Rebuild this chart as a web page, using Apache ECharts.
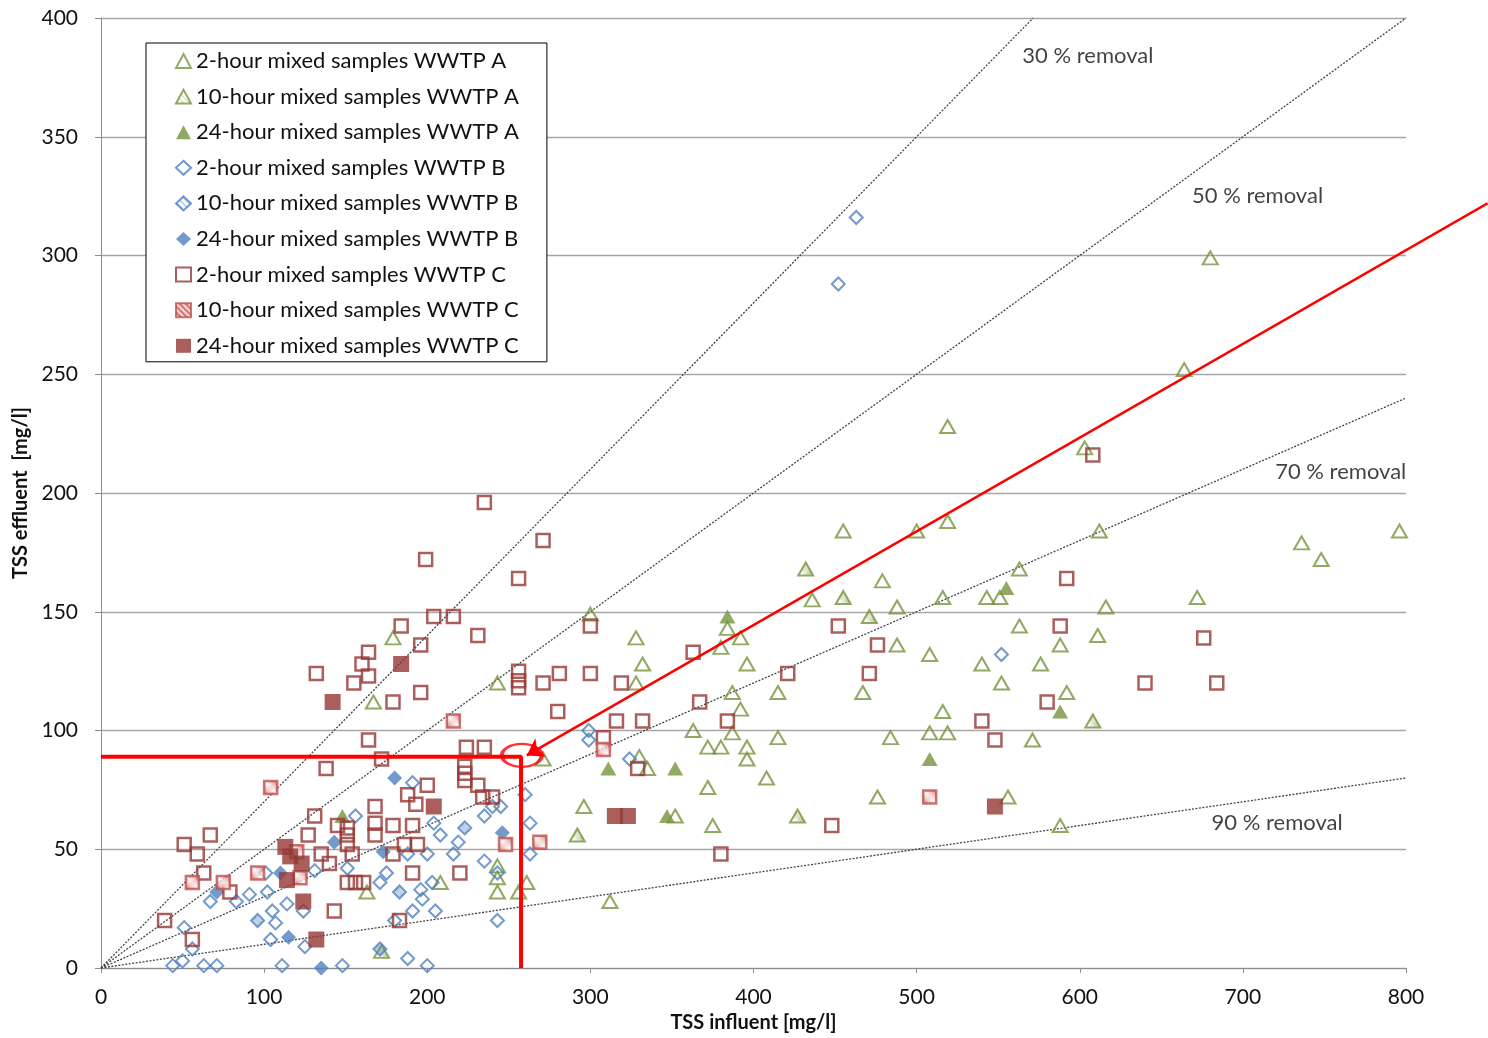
<!DOCTYPE html>
<html>
<head>
<meta charset="utf-8">
<script src="https://cdn.jsdelivr.net/npm/echarts@6/dist/echarts.min.js"></script>
<style>
  html, body { margin: 0; padding: 0; background: #fff; }
  #chart { width: 1488px; height: 1038px; }
</style>
</head>
<body>
<div id="chart"></div>
<script>
// TSS influent [mg/l] vs TSS effluent [mg/l]
const a2h = [[680,299],[664,252],[519,228],[603,219],[455,184],[500,184],[519,188],[612,184],[736,179],[748,172],
  [796,184],[479,163],[436,155],[563,168],[488,152],[516,156],[543,156],[551,156],[616,152],[672,156],
  [300,149],[384,143],[392,139],[380,135],[563,144],[611,140],[488,136],[508,132],[588,136],[540,128],
  [576,128],[552,120],[592,116],[328,139],[332,128],[328,120],[396,128],[387,116],[415,116],[467,116],
  [392,109],[387,99],[363,100],[415,97],[484,97],[516,108],[508,99],[519,99],[571,96],[372,93],
  [380,93],[396,93],[396,88],[330,89],[335,84],[408,80],[372,76],[476,72],[556,72],[296,68],
  [352,64],[375,60],[588,60],[271,88],[312,28],[179,139],[167,112],[243,120],[163,32],[208,36],
  [243,43],[243,38],[243,32],[256,32],[261,36]];
const a10h = [[432,168],[455,156],[471,148],[427,64],[608,104],[292,56],[172,7]];
const a24h = [[384,148],[311,84],[352,84],[347,64],[555,160],[588,108],[508,88],[148,64]];

const b2h = [[463,316],[452,288],[552,132],[299,100],[299,96],[324,88],[191,78],[156,64],[204,61],[208,56],
  [235,64],[240,68],[245,68],[260,73],[263,61],[200,48],[216,48],[219,53],[235,45],[243,40],
  [263,48],[131,41],[151,42],[175,40],[171,36],[196,33],[203,36],[197,29],[205,24],[191,24],
  [124,24],[180,20],[243,20],[188,4],[200,1],[148,1],[125,9],[188,48],[51,17],[56,8],
  [44,1],[50,3],[63,1],[71,1],[67,28],[83,28],[91,31],[102,32],[105,24],[107,19],
  [114,27],[104,12],[111,1],[101,40]];
const b10h = [[223,59],[183,32],[171,8],[96,20]];
const b24h = [[71,32],[115,13],[135,0],[180,80],[143,53],[173,49],[246,57],[110,40]];

const c2h = [[235,196],[199,172],[271,180],[256,164],[204,148],[216,148],[184,144],[231,140],[196,136],[164,133],
  [160,128],[164,123],[155,120],[196,116],[179,112],[256,125],[256,121],[256,118],[271,120],[164,96],
  [172,88],[224,93],[235,93],[223,85],[223,82],[223,79],[231,77],[200,77],[132,124],[138,84],
  [300,144],[281,124],[300,124],[319,120],[280,108],[316,104],[332,104],[363,133],[367,112],[384,104],
  [308,97],[329,84],[421,124],[452,144],[476,136],[471,124],[448,60],[380,48],[608,216],[592,164],
  [588,144],[580,112],[540,104],[548,96],[640,120],[676,139],[684,120],[67,56],[51,52],[59,48],
  [63,40],[39,20],[56,12],[79,32],[188,73],[193,69],[168,68],[234,72],[240,72],[131,64],
  [145,60],[151,59],[151,56],[151,52],[168,61],[168,56],[179,60],[191,60],[127,56],[186,52],
  [194,52],[135,48],[140,44],[154,48],[179,48],[191,40],[220,40],[151,36],[156,36],[161,36],
  [143,24],[183,20]];
const c10h = [[104,76],[56,36],[75,36],[96,40],[216,104],[248,52],[269,53],[308,92],[508,72],[120,49],[122,38]];
const c24h = [[142,112],[184,128],[204,68],[113,51],[116,47],[123,44],[114,37],[124,28],[132,12],[315,64],
  [323,64],[548,68]];

const removals = [30, 50, 70, 90];
const removalLabelPos = [[605,384],[709,325],[760,209],[721,61]];

// red marking: reading at ~258 mg/l influent / ~89 mg/l effluent
const markX = 257.5;
const markY = 89;
const circleAt = [258, 89.5];
const arrowFrom = [850, 322];
const arrowTo = [261, 89.5];

const xMax = 800, yMax = 400;

function hatch(bg, line, w) {
  const c = document.createElement('canvas');
  c.width = 6; c.height = 6;
  const g = c.getContext('2d');
  if (bg) { g.fillStyle = bg; g.fillRect(0, 0, 6, 6); }
  g.strokeStyle = line; g.lineWidth = w;
  g.beginPath();
  g.moveTo(-1, -1); g.lineTo(7, 7);
  g.moveTo(-4, 2); g.lineTo(4, 10);
  g.moveTo(2, -4); g.lineTo(10, 4);
  g.stroke();
  return c;
}

const GREEN = '#77933c', BLUE = '#4f81bd', DARKRED = '#953735', RED2 = '#c0504d';
const NONE = 'rgba(0,0,0,0)';
const FONT = 'Lato';

function pts(name, data, symbol, size, style) {
  return { name, type: 'scatter', data, symbol, symbolSize: size, itemStyle: style, z: 5 };
}

const series = [
  pts('2-hour mixed samples WWTP A', a2h, 'triangle', [15, 13], { color: NONE, borderColor: GREEN, borderWidth: 2 }),
  pts('10-hour mixed samples WWTP A', a10h, 'triangle', [15, 13], { color: { image: hatch(null, 'rgba(119,147,60,0.6)', 1), repeat: 'repeat' }, borderColor: GREEN, borderWidth: 2 }),
  pts('24-hour mixed samples WWTP A', a24h, 'triangle', [16, 14], { color: GREEN }),
  pts('2-hour mixed samples WWTP B', b2h, 'diamond', [13, 13], { color: NONE, borderColor: BLUE, borderWidth: 2 }),
  pts('10-hour mixed samples WWTP B', b10h, 'diamond', [13, 13], { color: { image: hatch(null, 'rgba(79,129,189,0.7)', 1.2), repeat: 'repeat' }, borderColor: BLUE, borderWidth: 2 }),
  pts('24-hour mixed samples WWTP B', b24h, 'diamond', [15, 15], { color: BLUE }),
  pts('2-hour mixed samples WWTP C', c2h, 'rect', [13, 13], { color: NONE, borderColor: DARKRED, borderWidth: 2.5 }),
  pts('10-hour mixed samples WWTP C', c10h, 'rect', [13, 13], { color: { image: hatch('#cf5a58', '#ffffff', 1.5), repeat: 'repeat' }, borderColor: RED2, borderWidth: 2.5 }),
  pts('24-hour mixed samples WWTP C', c24h, 'rect', [16, 16], { color: DARKRED })
];
const legendNames = series.map(s => s.name);

removals.forEach((r, i) => {
  const k = 1 - r / 100;
  const xe = Math.min(xMax, yMax / k);
  series.push({
    name: 'removal' + r, type: 'line', data: [[0, 0], [xe, xe * k]], symbol: 'none', silent: true,
    lineStyle: { color: '#444', width: 1.3, type: [2, 1.5] }, z: 2
  });
  series.push({
    name: 'label' + r, type: 'scatter', data: [removalLabelPos[i]], symbolSize: 0, silent: true,
    label: { show: true, position: 'inside', formatter: r + ' % removal', fontSize: 22, color: '#111', fontFamily: FONT }, z: 3
  });
});

series.push({
  name: 'redLines', type: 'line', data: [[0, markY], [markX, markY], [markX, 0]], symbol: 'none', silent: true,
  lineStyle: { color: '#ff0000', width: 4 }, z: 10
});
series.push({
  name: 'redCircle', type: 'scatter', data: [circleAt], symbol: 'circle', symbolSize: [40, 23], silent: true,
  itemStyle: { color: NONE, borderColor: '#ff0000', borderWidth: 3 }, z: 10
});
series.push({
  name: 'redArrow', type: 'lines', coordinateSystem: 'cartesian2d', clip: false, silent: true,
  symbol: ['none', 'arrow'], symbolSize: 16,
  lineStyle: { color: '#ff0000', width: 2.5, opacity: 1 },
  data: [{ coords: [arrowFrom, arrowTo] }], z: 10
});

const chart = echarts.init(document.getElementById('chart'), null, { renderer: 'canvas' });
chart.setOption({
  animation: false,
  backgroundColor: '#fff',
  textStyle: { fontFamily: FONT },
  grid: { left: 101, right: 82, top: 18, bottom: 70, containLabel: false },
  legend: {
    data: legendNames,
    orient: 'vertical',
    left: 146, top: 43,
    backgroundColor: '#fff',
    borderColor: '#000', borderWidth: 1,
    padding: [7, 28, 5, 29],
    itemWidth: 15, itemHeight: 14, itemGap: 13.6,
    textStyle: { fontSize: 22, color: '#111', fontFamily: FONT, lineHeight: 22 },
    selectedMode: false, z: 20
  },
  xAxis: {
    type: 'value', min: 0, max: xMax, interval: 100,
    name: 'TSS influent [mg/l]', nameLocation: 'middle', nameGap: 44,
    nameTextStyle: { fontSize: 20, fontWeight: 'bold', color: '#111', fontFamily: FONT },
    axisLine: { show: true, lineStyle: { color: '#8c8c8c', width: 1 } },
    axisTick: { show: true, length: 5, lineStyle: { color: '#8c8c8c' } },
    axisLabel: { fontSize: 21, color: '#111', margin: 19 },
    splitLine: { show: false }
  },
  yAxis: {
    type: 'value', min: 0, max: yMax, interval: 50,
    name: 'TSS effluent  [mg/l]', nameLocation: 'middle', nameGap: 70,
    nameTextStyle: { fontSize: 20, fontWeight: 'bold', color: '#111', fontFamily: FONT },
    axisLine: { show: true, lineStyle: { color: '#8c8c8c', width: 1 } },
    axisTick: { show: true, length: 6, lineStyle: { color: '#8c8c8c' } },
    axisLabel: { fontSize: 21, color: '#111', margin: 23 },
    splitLine: { show: true, lineStyle: { color: '#a6a6a6', width: 1.3 } }
  },
  series: series
});
</script>
</body>
</html>
